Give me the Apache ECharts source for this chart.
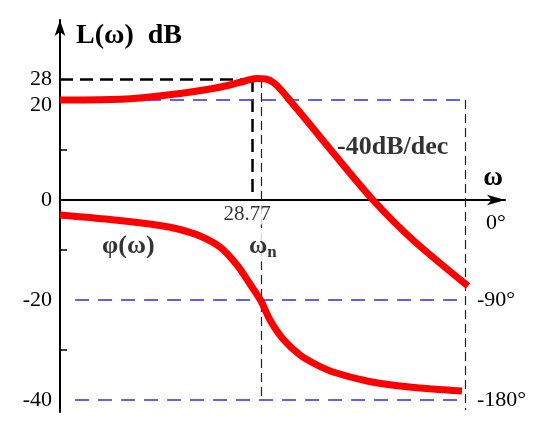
<!DOCTYPE html>
<html><head><meta charset="utf-8">
<script src="https://cdn.jsdelivr.net/npm/echarts@6/dist/echarts.min.js"></script>
<style>html,body{margin:0;padding:0;background:#fff}#c{width:536px;height:429px}</style>
</head><body><div id="c"></div>
<script>
// frequency samples (rad/s) along the magnitude curve and its level on the drawn dB scale
const magOmega = [3.153, 5.00, 7.92, 12.56, 17.74, 22.33, 26.54, 30.13, 33.80, 37.06, 40.64, 45.60, 52.96, 70.62, 115.9, 183.6, 345.9];
const magDb    = [20, 20.04, 20.4, 21.3, 22.2, 23.0, 23.8, 24.3, 24.2, 23.4, 21.8, 19.4, 16.3, 10.2, 0, -8, -17.2];
// frequency samples along the phase curve and phase in degrees
const phaseOmega = [3.153, 5.61, 9.97, 12.56, 15.81, 19.90, 24.21, 28.11, 31.91, 35.40, 41.11, 50.0, 60.80, 73.10, 108.1, 158.1, 231.2, 322.8];
const phaseDeg   = [-13.5, -17.55, -22.95, -26.55, -32.4, -42.3, -58.5, -75.6, -90.9, -108, -125.1, -139.5, -148.5, -154.8, -162.9, -167.4, -170.1, -171.9];
// tick labels
const magTickValues = [-40, -20, 0, 20, 24.2];
const magTickText   = ['-40', '-20', '0', '20', '28'];
const magMinorTicks = [-30, -10, 10];
const phaseTickValues = [0, -90, -180];
const phaseTickText   = ['0°', '-90°', '-180°'];
// reference values
const omegaMin = 3.153, omegaMax = 529.6;
const omegaR = 28.77, omegaN = 31.91, omegaEnd = 334.1, omegaPeakEnd = 30.1, omega20Start = 8.59, omegaPhaseStart = 3.75;
const peakDb = 24.2, lowDb = 20;
// annotations
const noteText  = ['-40dB/dec', 'φ(ω)', '{w|ω}{n|n}', '28.77'];
const noteOmega = [76.56, 5.116, 27.79, 27.16];
const noteDb    = [10.6, -9.2, -9.4, -2.8];

const FONT = '"Liberation Serif", "Times New Roman", serif';
const chart = echarts.init(document.getElementById('c'));

const thickBlack = {color: '#000', width: 2.5, type: [13, 7]};
const thinBlack = {color: '#222', width: 1.2, type: [9, 5]};
const blue = {color: '#2a2aff', width: 1.5, type: [14, 9]};

const noteStyles = [
  {fontSize: 26, fontWeight: 'bold', align: 'left'},
  {fontSize: 26, fontWeight: 'bold', align: 'left'},
  {align: 'left', backgroundColor: '#fff', rich: {
    w: {fontSize: 25, fontWeight: 'bold', fontFamily: FONT, color: '#000'},
    n: {fontSize: 17, fontWeight: 'bold', fontFamily: FONT, color: '#000', padding: [12, 0, 0, 0]}
  }},
  {fontSize: 21, align: 'center', backgroundColor: '#fff'}
];

chart.setOption({
  animation: false,
  backgroundColor: '#fff',
  grid: {left: 60, right: 31, top: 20, bottom: 17},
  xAxis: {
    type: 'log', logBase: 10, min: omegaMin, max: omegaMax,
    name: 'ω', nameLocation: 'end', nameGap: -12,
    nameTextStyle: {fontFamily: FONT, fontSize: 27, fontWeight: 'bold', color: '#000', align: 'center', verticalAlign: 'bottom', padding: [0, 0, 8, 0]},
    axisLine: {onZero: true, onZeroAxisIndex: 0, lineStyle: {color: '#000', width: 2}, symbol: ['none', 'arrow'], symbolSize: [8, 18]},
    axisTick: {show: false}, axisLabel: {show: false}, splitLine: {show: false}
  },
  yAxis: [{
    type: 'value', min: -42.4, max: 36,
    name: 'L(ω)  dB', nameLocation: 'end', nameGap: -16,
    nameTextStyle: {fontFamily: FONT, fontSize: 28, fontWeight: 'bold', color: '#000', align: 'left', verticalAlign: 'middle', padding: [0, 0, 0, 16]},
    axisLine: {show: true, onZero: false, lineStyle: {color: '#000', width: 2}, symbol: ['none', 'arrow'], symbolSize: [8, 16]},
    axisTick: {show: true, inside: true, length: 7, customValues: magMinorTicks, lineStyle: {color: '#000', width: 1.5}},
    axisLabel: {
      customValues: magTickValues, margin: 8, color: '#000', fontFamily: FONT, fontSize: 22,
      formatter: v => {
        const i = magTickValues.indexOf(v);
        const t = i >= 0 ? magTickText[i] : '';
        return v === lowDb ? '{d|' + t + '}' : t;
      },
      rich: {d: {fontFamily: FONT, fontSize: 22, color: '#000', padding: [10, 0, 0, 0]}}
    },
    splitLine: {show: false}
  }, {
    type: 'value', min: -190.8, max: 162, position: 'right', offset: -35,
    axisLine: {show: false}, axisTick: {show: false}, splitLine: {show: false},
    axisLabel: {
      customValues: phaseTickValues, margin: 7, color: '#000', fontFamily: FONT, fontSize: 22,
      formatter: v => {
        const i = phaseTickValues.indexOf(v);
        const t = i >= 0 ? phaseTickText[i] : '';
        return v === 0 ? '{z|' + t + '}' : t;
      },
      rich: {z: {fontFamily: FONT, fontSize: 22, color: '#000', padding: [46, 0, 0, 9]}}
    }
  }],
  series: [{
    type: 'line', yAxisIndex: 0, z: 3,
    data: magOmega.map((w, i) => [w, magDb[i]]),
    showSymbol: false, smooth: 0.3,
    lineStyle: {color: '#ff0000', width: 7},
    markLine: {
      silent: true, z: 1, symbol: 'none', label: {show: false},
      data: [
        [{coord: [omegaMin, peakDb], lineStyle: thickBlack}, {coord: [omegaPeakEnd, peakDb]}],
        [{coord: [omegaR, peakDb], lineStyle: thickBlack}, {coord: [omegaR, 0]}],
        [{coord: [omegaN, peakDb], lineStyle: thinBlack}, {coord: [omegaN, -40]}],
        [{coord: [omega20Start, lowDb], lineStyle: blue}, {coord: [omegaEnd, lowDb]}],
        [{coord: [omegaEnd, lowDb], lineStyle: thinBlack}, {coord: [omegaEnd, -42]}]
      ]
    }
  }, {
    type: 'line', yAxisIndex: 1, z: 3,
    data: phaseOmega.map((w, i) => [w, phaseDeg[i]]),
    showSymbol: false, smooth: 0.3,
    lineStyle: {color: '#ff0000', width: 7},
    markLine: {
      silent: true, z: 1, symbol: 'none', label: {show: false},
      data: [
        [{coord: [omegaPhaseStart, -90], lineStyle: blue}, {coord: [omegaEnd, -90]}],
        [{coord: [omegaPhaseStart, -180], lineStyle: blue}, {coord: [omegaEnd, -180]}]
      ]
    }
  }, {
    type: 'scatter', yAxisIndex: 0, z: 6, symbolSize: 0, silent: true,
    data: noteText.map((t, i) => ({
      value: [noteOmega[i], noteDb[i]], name: t,
      label: Object.assign({show: true, position: [0, 0], verticalAlign: 'middle', formatter: '{b}', color: '#000', fontFamily: FONT}, noteStyles[i])
    }))
  }]
});
</script></body></html>
